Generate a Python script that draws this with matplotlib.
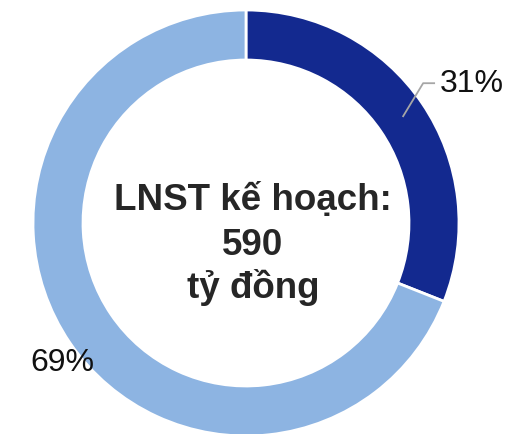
import numpy as np
import matplotlib
matplotlib.use("Agg")
import matplotlib.pyplot as plt

plt.rcParams["font.family"] = ["Liberation Sans", "DejaVu Sans"]

VALUES = [31, 69]
LABELS = ["31%", "69%"]
COLORS = ["#13298f", "#8db4e2"]
CENTER_LINES = ["LNST kế hoạch:", "590", "tỷ đồng"]

W, H = 526, 434
CX, CY, R = 246, 211, 213
RING = 50

fig = plt.figure(figsize=(W / 100, H / 100), dpi=100)
ax = fig.add_axes([0, 0, 1, 1])

ax.pie(VALUES, colors=COLORS, startangle=90, counterclock=False,
       radius=R, center=(CX, CY), frame=True,
       wedgeprops=dict(width=RING, edgecolor="white", linewidth=2))
ax.set_xlim(0, W)
ax.set_ylim(0, H)
ax.set_aspect("equal")
ax.axis("off")

# leader line for the first slice, starts at the middle of the ring
mid = np.deg2rad(90 - VALUES[0] / sum(VALUES) * 360 / 2)
x0 = CX + 190 * np.cos(mid)
y0 = CY + 190 * np.sin(mid)
ax.plot([x0, x0 + 20, x0 + 31], [y0, y0 + 33, y0 + 33], color="#a6a6a6", lw=1.3)
ax.text(472, 350, LABELS[0], fontsize=23, ha="center", va="center", color="#111111")
ax.text(62, 71, LABELS[1], fontsize=23, ha="center", va="center", color="#111111")

for y, line in zip([224, 179, 136], CENTER_LINES):
    ax.text(253, y, line, fontsize=26.5, fontweight="bold", ha="center",
            va="baseline", color="#262626")

fig.savefig("out.png", dpi=100)
